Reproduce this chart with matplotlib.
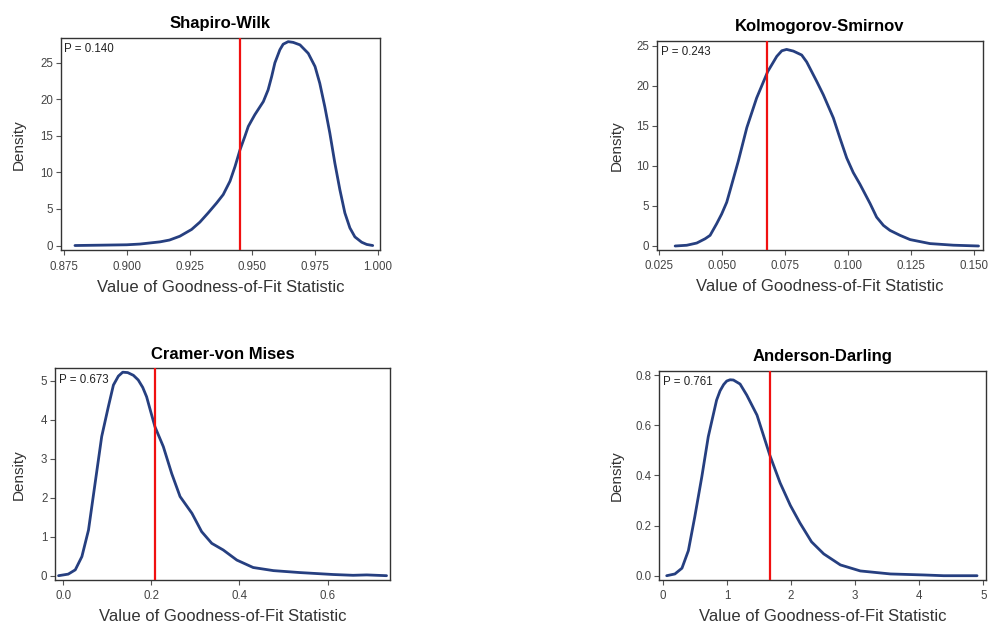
import matplotlib
matplotlib.use("Agg")
import matplotlib.pyplot as plt

plt.rcParams["font.family"] = ["Liberation Sans", "DejaVu Sans"]

# Shapiro-Wilk null density
sw_x = [0.8793, 0.8900, 0.8999, 0.9052, 0.9132, 0.917, 0.9211, 0.9258, 0.9291,
        0.9324, 0.9358, 0.9384, 0.9411, 0.9431, 0.9451, 0.9470, 0.9484, 0.9510,
        0.9544, 0.9563, 0.9577, 0.9590, 0.9610, 0.9623, 0.9643, 0.9663, 0.9690,
        0.9723, 0.9750, 0.9769, 0.9789, 0.9809, 0.9829, 0.9849, 0.9869, 0.9889,
        0.9909, 0.9936, 0.9956, 0.998]
sw_y = [0.0, 0.05, 0.1, 0.2, 0.5, 0.75, 1.27, 2.2, 3.2,
        4.46, 5.83, 6.97, 8.8, 10.8, 13.1, 14.9, 16.3, 17.9,
        19.7, 21.3, 23.1, 25.0, 26.8, 27.55, 27.9, 27.8, 27.46,
        26.3, 24.5, 22.2, 19.0, 15.4, 11.3, 7.65, 4.46, 2.41,
        1.18, 0.45, 0.15, 0.0]

# Kolmogorov-Smirnov null density
ks_x = [0.0314, 0.0360, 0.040, 0.0433, 0.0453, 0.0479, 0.0499, 0.0519, 0.0532,
        0.0565, 0.0599, 0.0638, 0.0682, 0.0718, 0.0738, 0.0757, 0.0784, 0.0817,
        0.0837, 0.0877, 0.0903, 0.0943, 0.0969, 0.0996, 0.1022, 0.1049, 0.1089,
        0.1115, 0.1142, 0.1168, 0.1208, 0.1248, 0.1327, 0.142, 0.152]
ks_y = [0.0, 0.09, 0.37, 0.9, 1.33, 2.78, 4.0, 5.46, 6.9,
        10.6, 14.8, 18.5, 21.8, 23.7, 24.4, 24.57, 24.36, 23.87,
        23.0, 20.56, 18.9, 16.0, 13.5, 11.0, 9.18, 7.7, 5.3,
        3.6, 2.57, 1.95, 1.33, 0.8, 0.3, 0.1, 0.0]

# Cramer-von Mises null density
cvm_x = [-0.011, 0.011, 0.027, 0.042, 0.057, 0.072, 0.087, 0.102, 0.1136, 0.1249,
         0.1348, 0.1461, 0.159, 0.170, 0.1802, 0.189, 0.1983, 0.208, 0.227, 0.246,
         0.265, 0.292, 0.314, 0.337, 0.363, 0.394, 0.431, 0.477, 0.537, 0.613,
         0.658, 0.689, 0.734]
cvm_y = [0.0, 0.04, 0.15, 0.49, 1.17, 2.37, 3.57, 4.33, 4.89, 5.12,
         5.22, 5.21, 5.14, 5.02, 4.83, 4.59, 4.21, 3.82, 3.31, 2.62,
         2.03, 1.6, 1.13, 0.83, 0.66, 0.40, 0.21, 0.13, 0.08, 0.03,
         0.01, 0.02, 0.0]

# Anderson-Darling null density
ad_x = [0.062, 0.19, 0.30, 0.40, 0.50, 0.61, 0.71, 0.84, 0.894, 0.95, 0.998,
        1.05, 1.102, 1.206, 1.31, 1.47, 1.67, 1.83, 1.99, 2.14, 2.32, 2.51,
        2.77, 3.08, 3.55, 4.07, 4.38, 4.90]
ad_y = [0.0, 0.007, 0.03, 0.10, 0.235, 0.395, 0.554, 0.70, 0.737, 0.762, 0.776,
        0.781, 0.780, 0.764, 0.72, 0.64, 0.48, 0.37, 0.28, 0.21, 0.135, 0.087,
        0.043, 0.019, 0.007, 0.003, 0.0, 0.0]

titles = ["Shapiro-Wilk", "Kolmogorov-Smirnov", "Cramer-von Mises", "Anderson-Darling"]
observed = [0.945, 0.068, 0.209, 1.67]
p_values = ["0.140", "0.243", "0.673", "0.761"]

xticks = [[0.875, 0.900, 0.925, 0.950, 0.975, 1.000],
          [0.025, 0.050, 0.075, 0.100, 0.125, 0.150],
          [0.0, 0.2, 0.4, 0.6],
          [0, 1, 2, 3, 4, 5]]
xtick_fmt = ["{:.3f}", "{:.3f}", "{:.1f}", "{:.0f}"]
yticks = [[0, 5, 10, 15, 20, 25],
          [0, 5, 10, 15, 20, 25],
          [0, 1, 2, 3, 4, 5],
          [0.0, 0.2, 0.4, 0.6, 0.8]]
ytick_fmt = ["{:.0f}", "{:.0f}", "{:.0f}", "{:.1f}"]
xlims = [(0.8736, 1.0009), (0.0242, 0.1538), (-0.019, 0.742), (-0.058, 5.04)]
ylims = [(-0.68, 28.4), (-0.46, 25.66), (-0.11, 5.32), (-0.017, 0.816)]

curves = [(sw_x, sw_y), (ks_x, ks_y), (cvm_x, cvm_y), (ad_x, ad_y)]

# axes boxes in figure fractions
boxes = [[0.0614, 0.6005, 0.3232, 0.3389],
         [0.6650, 0.6018, 0.3300, 0.3333],
         [0.0557, 0.0750, 0.3391, 0.3376],
         [0.6670, 0.0750, 0.3310, 0.3333]]
ylabel_x = [-0.109, -0.101, -0.087, -0.107]

fig = plt.figure(figsize=(9.88, 6.27), dpi=100)

for i in range(4):
    ax = fig.add_axes(boxes[i])
    cx, cy = curves[i]
    ax.plot(cx, cy, color="#263f80", lw=2.0, solid_joinstyle="round",
            solid_capstyle="round", zorder=3)
    ax.axvline(observed[i], color="#f01010", lw=1.6, zorder=4)
    ax.set_xlim(*xlims[i])
    ax.set_ylim(*ylims[i])
    ax.set_xticks(xticks[i])
    ax.set_xticklabels([xtick_fmt[i].format(v) for v in xticks[i]])
    ax.set_yticks(yticks[i])
    ax.set_yticklabels([ytick_fmt[i].format(v) for v in yticks[i]])
    ax.tick_params(direction="out", length=3.5, width=0.8, color="#555555",
                   labelsize=8.3, labelcolor="#444444", pad=2)
    ax.tick_params(axis="x", pad=4)
    for s in ax.spines.values():
        s.set_color("#333333")
        s.set_linewidth(1.0)
    ax.set_title(titles[i], fontsize=12, fontweight="bold", pad=7)
    ax.set_xlabel("Value of Goodness-of-Fit Statistic", fontsize=12,
                  color="#333333", labelpad=5)
    ax.set_ylabel("Density", fontsize=11, color="#333333")
    ax.yaxis.set_label_coords(ylabel_x[i], 0.5)
    ax.text(0.012, 0.975, "P = " + p_values[i], transform=ax.transAxes,
            fontsize=8.3, color="#222222", ha="left", va="top")

fig.savefig("out.png", dpi=100)
